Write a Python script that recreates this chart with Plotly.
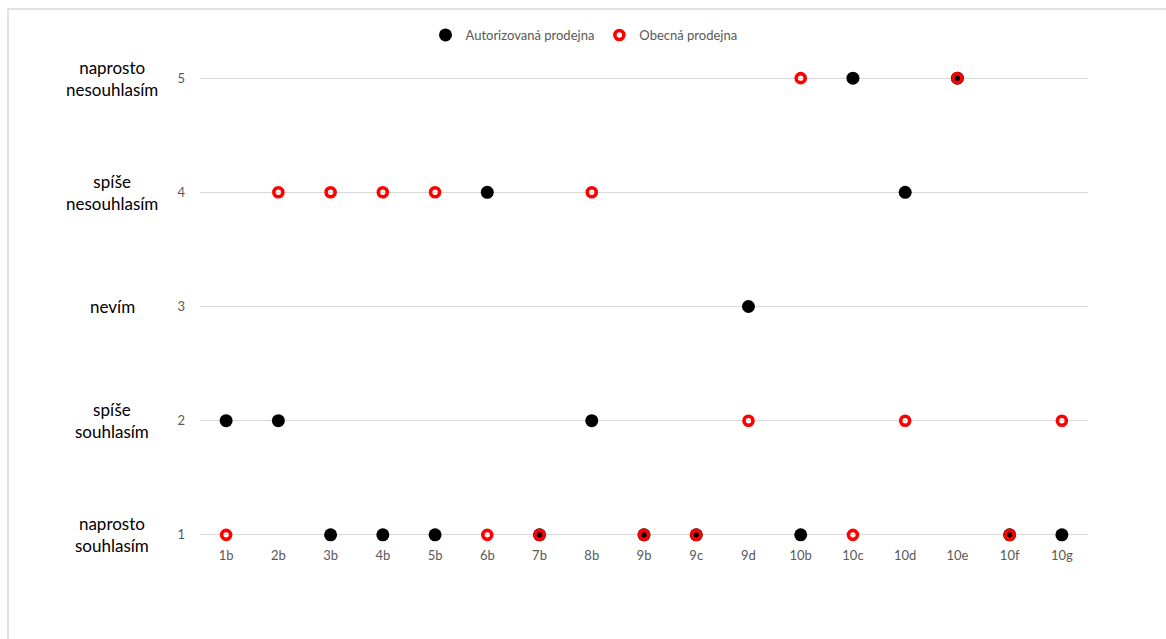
import plotly.graph_objects as go

categories = ["1b", "2b", "3b", "4b", "5b", "6b", "7b", "8b", "9b", "9c",
              "9d", "10b", "10c", "10d", "10e", "10f", "10g"]
autorizovana = [2, 2, 1, 1, 1, 4, 1, 2, 1, 1, 3, 1, 5, 4, 5, 1, 1]
obecna = [1, 4, 4, 4, 4, 1, 1, 4, 1, 1, 2, 5, 1, 2, 5, 1, 2]
y_ticks = [1, 2, 3, 4, 5]
y_labels = ["naprosto<br>souhlasím", "spíše<br>souhlasím", "nevím",
            "spíše<br>nesouhlasím", "naprosto<br>nesouhlasím"]

W, H = 1166, 639
L, R, T, B = 200, 1088, 77, 536
font = "Lato, 'Open Sans', sans-serif"

fig = go.Figure()
fig.add_trace(go.Scatter(
    x=list(range(len(categories))), y=autorizovana, mode="markers",
    name="Autorizovaná prodejna",
    marker=dict(symbol="circle", size=13, color="#000000"),
    cliponaxis=False,
))
fig.add_trace(go.Scatter(
    x=list(range(len(categories))), y=obecna, mode="markers",
    name="Obecná prodejna",
    marker=dict(symbol="circle-open", size=9, color="#ff0000",
                line=dict(width=3.6, color="#ff0000")),
    cliponaxis=False,
))

# descriptive labels to the left of the value axis
for v, lab in zip(y_ticks, y_labels):
    fig.add_annotation(x=(112 - L) / (R - L), y=v, xref="x domain", yref="y",
                       xanchor="center", yanchor="middle", align="center",
                       text=lab, showarrow=False,
                       font=dict(family=font, size=17, color="#000000"))

# outer frame
fig.add_shape(type="rect", xref="paper", yref="paper",
              x0=(8 - L) / (R - L), x1=(W + 5 - L) / (R - L),
              y0=(B - (H + 5)) / (B - T), y1=(B - 9) / (B - T),
              line=dict(color="#d9d9d9", width=1.5), fillcolor="rgba(0,0,0,0)",
              layer="below")

fig.update_layout(
    width=W, height=H,
    margin=dict(l=L, r=W - R, t=T, b=H - B),
    plot_bgcolor="white", paper_bgcolor="white",
    font=dict(family=font, size=13, color="#595959"),
    showlegend=True,
    legend=dict(orientation="h", x=(584 - L) / (R - L), xanchor="center",
                y=(B - 35) / (B - T), yanchor="middle",
                font=dict(size=13, color="#595959"),
                itemwidth=30, tracegroupgap=0),
    xaxis=dict(range=[-0.5, len(categories) - 0.5], tickmode="array",
               tickvals=list(range(len(categories))), ticktext=categories,
               showgrid=False, zeroline=False, showline=False, ticks="",
               ticklabelstandoff=10, fixedrange=True),
    yaxis=dict(range=[0.99, 5.01], tickmode="array", tickvals=y_ticks,
               ticktext=[str(v) for v in y_ticks],
               showgrid=True, gridcolor="#d9d9d9", gridwidth=1,
               zeroline=False, showline=False, ticks="",
               ticklabelstandoff=14, fixedrange=True),
)

fig.write_html("out.html")
